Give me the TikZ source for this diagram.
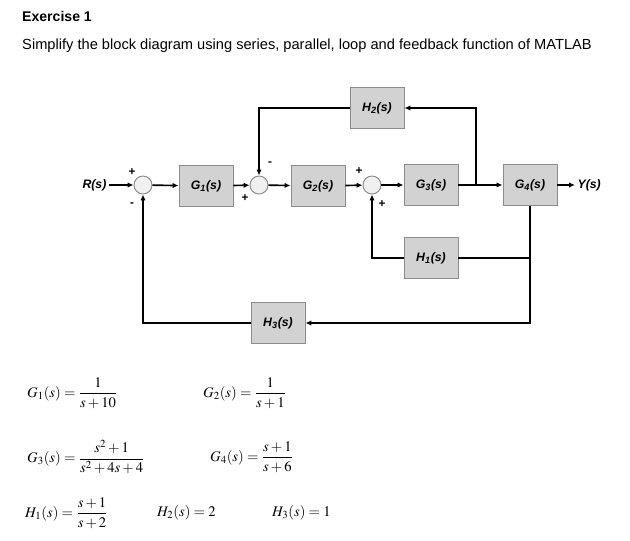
\documentclass[tikz,border=0pt]{standalone}
\usepackage{amsmath}
\usepackage{mathptmx}
\usepackage[no-math]{fontspec}
\setmainfont{Liberation Sans}
\usepackage{tikz}
\usetikzlibrary{arrows.meta}
\definecolor{bFill}{HTML}{D2D2D2}
\definecolor{bEdge}{HTML}{8C8C8C}
\definecolor{sFill}{HTML}{F0F0F0}
\tikzset{
  blk/.style={draw=bEdge, fill=bFill, line width=0.8pt, minimum width=1.62cm, minimum height=1.23cm,
    font=\bfseries\itshape\fontsize{10.5}{12}\selectfont},
  sumj/.style={circle, draw=bEdge, fill=sFill, line width=0.8pt, minimum size=0.54cm, inner sep=0pt},
  sgn/.style={font=\bfseries\fontsize{10}{11}\selectfont, inner sep=0pt},
  wire/.style={line width=1.4pt, black},
  eqn/.style={anchor=west, inner sep=0pt, font=\fontsize{12.5}{15}\selectfont}
}
\begin{document}
\begin{tikzpicture}[x=0.03cm, y=-0.03cm, >={Latex[length=5pt,width=4.5pt]}]
  \useasboundingbox (0,0) rectangle (630,541);
  % heading
  \node[anchor=west, inner sep=0pt, font=\bfseries\fontsize{12}{14}\selectfont] (ttl) at (22,16) {Exercise 1};
  \node[anchor=west, inner sep=0pt, font=\fontsize{12.5}{14}\selectfont] (sub) at (22,46)
    {Simplify the block diagram using series, parallel, loop and feedback function of MATLAB};
  % forward path
  \node[anchor=east, inner sep=2pt, font=\bfseries\itshape\fontsize{10.5}{12}\selectfont] (rin) at (109,185) {R(s)};
  \node[sumj] (s1) at (143,185) {};
  \node[blk] (g1) at (206,186) {G\textsubscript{1}(s)};
  \node[sumj] (s2) at (259,185) {};
  \node[blk] (g2) at (318,186) {G\textsubscript{2}(s)};
  \node[sumj] (s3) at (372,185) {};
  \node[blk] (g3) at (431,185) {G\textsubscript{3}(s)};
  \node[blk] (g4) at (530,185) {G\textsubscript{4}(s)};
  \node[anchor=west, inner sep=2pt, font=\bfseries\itshape\fontsize{10.5}{12}\selectfont] (yout) at (575,185) {Y(s)};
  % feedback blocks
  \node[blk] (h2) at (377,108) {H\textsubscript{2}(s)};
  \node[blk] (h1) at (431,258) {H\textsubscript{1}(s)};
  \node[blk] (h3) at (278,323) {H\textsubscript{3}(s)};
  \coordinate (b1) at (476,185);
  \coordinate (b2) at (g4.south |- h1);
  % signs
  \node[sgn] (p1) at (132,172) {+};
  \node[sgn] (m1) at (132,205) {-};
  \node[sgn] (p2) at (245,198) {+};
  \node[sgn] (m2) at (270,164) {-};
  \node[sgn] (p3) at (359,171) {+};
  \node[sgn] (p4) at (382,204) {+};
  % connectors
  \draw[wire, ->] (rin) -- (s1);
  \draw[wire, ->] (s1) -- (g1);
  \draw[wire, ->] (g1) -- (s2);
  \draw[wire, ->] (s2) -- (g2);
  \draw[wire, ->] (g2) -- (s3);
  \draw[wire, ->] (s3) -- (g3);
  \draw[wire, ->] (g3) -- (g4);
  \draw[wire, ->] (g4) -- (yout);
  \draw[wire, ->] (b1) |- (h2);
  \draw[wire, ->] (h2) -| (s2);
  \draw[wire] (b2) -- (h1);
  \draw[wire, ->] (h1) -| (s3);
  \draw[wire, ->] (g4) |- (h3);
  \draw[wire, ->] (h3) -| (s1);
  % transfer functions
  \node[eqn] (e1) at (27,393) {$G_1(s)=\dfrac{1}{s+10}$};
  \node[eqn] (e2) at (203,393) {$G_2(s)=\dfrac{1}{s+1}$};
  \node[eqn] (e3) at (27,457) {$G_3(s)=\dfrac{s^2+1}{s^2+4s+4}$};
  \node[eqn] (e4) at (210,457) {$G_4(s)=\dfrac{s+1}{s+6}$};
  \node[eqn] (e5) at (25,513) {$H_1(s)=\dfrac{s+1}{s+2}$};
  \node[eqn] (e6) at (157,513) {$H_2(s)=2$};
  \node[eqn] (e7) at (272,513) {$H_3(s)=1$};
\end{tikzpicture}
\end{document}
